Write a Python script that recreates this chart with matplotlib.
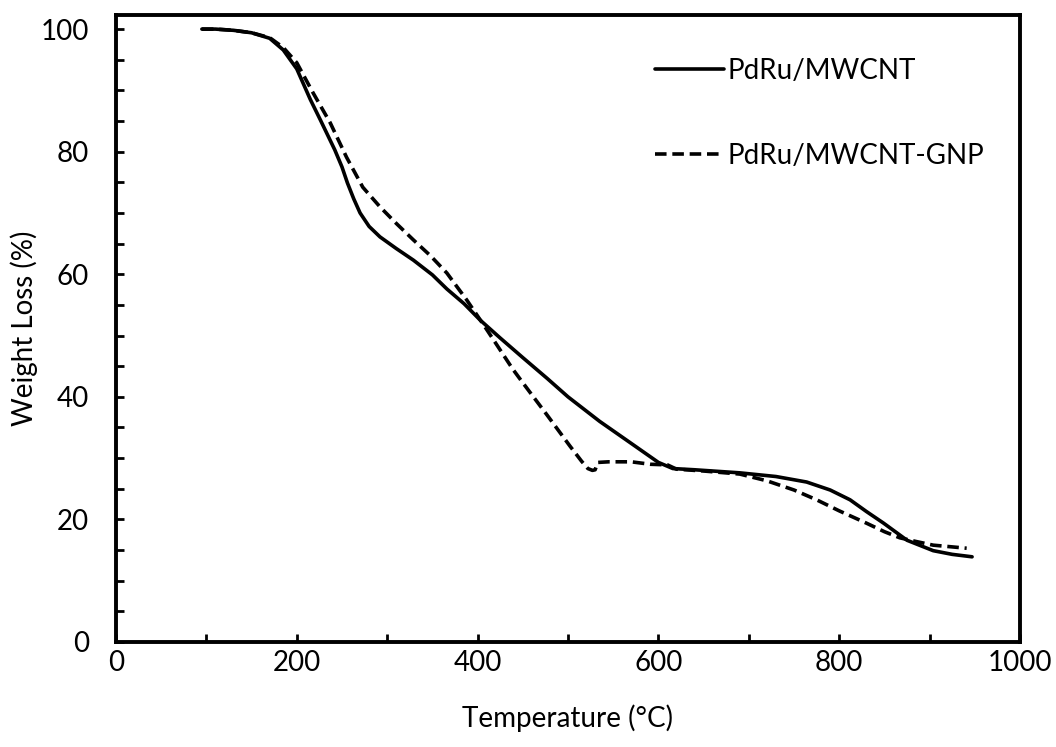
import matplotlib
matplotlib.use("Agg")
import matplotlib.pyplot as plt
from matplotlib.ticker import MultipleLocator

plt.rcParams['font.family'] = ['Lato', 'DejaVu Sans']

# PdRu/MWCNT (solid)
temp_a = [95, 110, 130, 150, 170, 185, 200, 215, 226, 242, 250, 256, 263, 270, 280, 292,
          310, 329, 350, 366, 385, 403, 425, 450, 477, 500, 535, 569, 600, 616, 640, 690,
          730, 764, 790, 812, 830, 849, 875, 904, 925, 947]
wt_a = [100, 100, 99.8, 99.4, 98.5, 96.6, 93.5, 88.5, 85.2, 80.3, 77.5, 74.9, 72.3, 70.0, 67.8, 66.1,
        64.2, 62.3, 59.9, 57.6, 55.2, 52.5, 49.6, 46.4, 43.0, 40.0, 36.0, 32.5, 29.3, 28.3, 28.1, 27.6,
        27.0, 26.1, 24.8, 23.2, 21.3, 19.4, 16.6, 14.9, 14.3, 13.9]

# PdRu/MWCNT-GNP (dashed)
temp_b = [95, 110, 130, 150, 170, 185, 200, 218, 237, 255, 273, 292, 310, 329, 348, 366,
          388, 410, 439, 450, 477, 502, 515, 522, 527, 530, 533, 545, 570, 591, 610, 620,
          650, 690, 720, 750, 775, 800, 830, 850, 867, 885, 904, 941]
wt_b = [100, 100, 99.8, 99.4, 98.6, 97.0, 94.5, 89.6, 84.7, 79.1, 74.2, 71.0, 68.3, 65.6, 63.0, 60.2,
        55.8, 51.0, 44.5, 42.3, 37.0, 32.0, 29.5, 28.3, 28.0, 28.1, 29.3, 29.4, 29.4, 29.0, 28.9, 28.2,
        27.9, 27.4, 26.3, 24.8, 23.2, 21.4, 19.4, 18.0, 17.0, 16.4, 15.8, 15.3]

labels = ["PdRu/MWCNT", "PdRu/MWCNT-GNP"]
xlabel = "Temperature (°C)"
ylabel = "Weight Loss (%)"

fig = plt.figure(figsize=(10.56, 7.47), dpi=100)
ax = fig.add_axes([116/1056, 1-642/747, (1020-116)/1056, (642-15)/747])

ax.plot(temp_a, wt_a, color='black', lw=2.6, label=labels[0], solid_capstyle='round')
ax.plot(temp_b, wt_b, color='black', lw=2.6, dashes=(3.2, 1.6), label=labels[1])

ax.set_xlim(0, 1000)
ax.set_ylim(0, 102.3)
ax.xaxis.set_major_locator(MultipleLocator(200))
ax.xaxis.set_minor_locator(MultipleLocator(100))
ax.yaxis.set_major_locator(MultipleLocator(20))
ax.yaxis.set_minor_locator(MultipleLocator(5))

for s in ax.spines.values():
    s.set_linewidth(2.8)

ax.tick_params(axis='both', which='both', direction='in', width=2.0, labelsize=20, length=6)
ax.tick_params(axis='y', which='both', pad=19.5)
ax.tick_params(axis='x', which='both', pad=6)

ax.set_xlabel(xlabel, fontsize=20, labelpad=20)
ax.set_ylabel(ylabel, fontsize=20, labelpad=2)

leg = ax.legend(loc='upper left', bbox_to_anchor=(0.596, 0.932), frameon=False,
                fontsize=20, handlelength=2.5, handletextpad=0.1, labelspacing=2.14,
                borderpad=0, borderaxespad=0)

fig.savefig("out.png", dpi=100)
